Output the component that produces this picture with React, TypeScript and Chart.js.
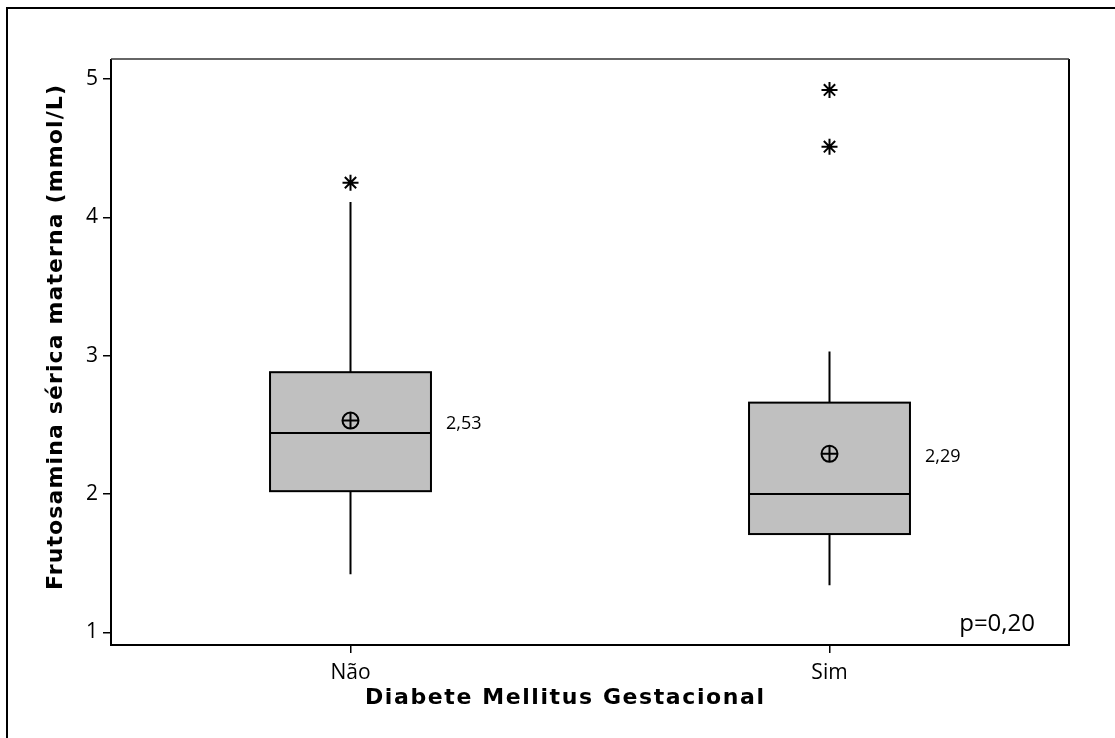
import React, { useEffect, useRef } from "react";
import { Chart, registerables } from "chart.js";

Chart.register(...registerables);

// ---- data ----
const categories = ["Não", "Sim"];
const whiskerLow = [1.42, 1.34];
const q1 = [2.02, 1.71];
const median = [2.44, 2.0];
const q3 = [2.88, 2.66];
const whiskerHigh = [4.11, 3.03];
const means = [2.53, 2.29];
const meanLabels = ["2,53", "2,29"];
const outlierCategory = [1, 2, 2];
const outlierValues = [4.25, 4.92, 4.51];
const yTickValues = [1, 2, 3, 4, 5];
const pValueText = "p=0,20";
const xAxisTitle = "Diabete Mellitus Gestacional";
const yAxisTitle = "Frutosamina sérica materna (mmol/L)";

const BOX_HALF = 0.168; // in category units
const TEXT_FONT = "'Open Sans', 'Noto Sans', sans-serif";
const TITLE_FONT = "'DejaVu Sans', Verdana, sans-serif";

function spacedText(
  ctx: CanvasRenderingContext2D,
  text: string,
  target: number
) {
  (ctx as any).letterSpacing = "0px";
  const w = ctx.measureText(text).width;
  const s = (target - w) / (text.length - 1);
  (ctx as any).letterSpacing = `${s}px`;
}

const boxPlugin = {
  id: "boxes",
  beforeDatasetsDraw(chart: any) {
    const { ctx } = chart;
    const xs = chart.scales.x;
    const ys = chart.scales.y;
    ctx.save();
    categories.forEach((_, i) => {
      const cx = xs.getPixelForValue(i + 1);
      const left = xs.getPixelForValue(i + 1 - BOX_HALF);
      const right = xs.getPixelForValue(i + 1 + BOX_HALF);
      const yQ1 = ys.getPixelForValue(q1[i]);
      const yQ3 = ys.getPixelForValue(q3[i]);
      const yMed = ys.getPixelForValue(median[i]);
      const yLo = ys.getPixelForValue(whiskerLow[i]);
      const yHi = ys.getPixelForValue(whiskerHigh[i]);
      ctx.strokeStyle = "#000";
      ctx.lineWidth = 2;
      ctx.beginPath();
      ctx.moveTo(cx, yQ3);
      ctx.lineTo(cx, yHi);
      ctx.moveTo(cx, yQ1);
      ctx.lineTo(cx, yLo);
      ctx.stroke();
      ctx.fillStyle = "#c0c0c0";
      ctx.fillRect(left, yQ3, right - left, yQ1 - yQ3);
      ctx.strokeRect(left, yQ3, right - left, yQ1 - yQ3);
      ctx.beginPath();
      ctx.moveTo(left, yMed);
      ctx.lineTo(right, yMed);
      ctx.stroke();
    });
    ctx.restore();
  },
  afterDraw(chart: any) {
    const { ctx, chartArea } = chart;
    const xs = chart.scales.x;
    const ys = chart.scales.y;
    ctx.save();
    // plot frame
    ctx.strokeStyle = "#000";
    ctx.lineWidth = 2;
    ctx.beginPath();
    ctx.moveTo(chartArea.left, chartArea.top);
    ctx.lineTo(chartArea.left, chartArea.bottom);
    ctx.lineTo(chartArea.right, chartArea.bottom);
    ctx.lineTo(chartArea.right, chartArea.top);
    ctx.stroke();
    ctx.strokeStyle = "#333";
    ctx.lineWidth = 1.5;
    ctx.beginPath();
    ctx.moveTo(chartArea.left, chartArea.top);
    ctx.lineTo(chartArea.right, chartArea.top);
    ctx.stroke();
    // outer frame
    ctx.strokeStyle = "#000";
    ctx.lineWidth = 2;
    ctx.beginPath();
    ctx.moveTo(7, chart.height);
    ctx.lineTo(7, 8);
    ctx.lineTo(chart.width, 8);
    ctx.stroke();
    // mean labels
    ctx.fillStyle = "#000";
    ctx.font = `18px ${TEXT_FONT}`;
    ctx.textAlign = "left";
    ctx.textBaseline = "alphabetic";
    categories.forEach((_, i) => {
      const right = xs.getPixelForValue(i + 1 + BOX_HALF);
      ctx.fillText(meanLabels[i], right + 15, ys.getPixelForValue(means[i]) + 8);
    });
    // p value
    ctx.font = `24px ${TEXT_FONT}`;
    ctx.textAlign = "right";
    ctx.fillText(pValueText, chartArea.right - 34, chartArea.bottom - 14);
    // x title
    ctx.font = `bold 22px ${TITLE_FONT}`;
    ctx.textAlign = "left";
    spacedText(ctx, xAxisTitle, 399);
    ctx.fillText(xAxisTitle, 365, 704);
    // y title
    ctx.save();
    ctx.translate(62, 590);
    ctx.rotate(-Math.PI / 2);
    spacedText(ctx, yAxisTitle, 505);
    ctx.fillText(yAxisTitle, 0, 0);
    ctx.restore();
    ctx.restore();
  },
};

export default function App() {
  const ref = useRef<HTMLCanvasElement | null>(null);
  useEffect(() => {
    document.body.style.margin = "0";
    const canvas = ref.current!;
    const chart = new Chart(canvas, {
      type: "scatter",
      data: {
        datasets: [
          {
            label: "outliers",
            data: outlierValues.map((v, i) => ({ x: outlierCategory[i], y: v })),
            pointStyle: "star",
            radius: 8,
            borderWidth: 2,
            borderColor: "#000",
            backgroundColor: "#000",
          },
          {
            label: "mean circle",
            data: means.map((v, i) => ({ x: i + 1, y: v })),
            pointStyle: "circle",
            radius: 8,
            borderWidth: 2,
            borderColor: "#000",
            backgroundColor: "rgba(0,0,0,0)",
          },
          {
            label: "mean cross",
            data: means.map((v, i) => ({ x: i + 1, y: v })),
            pointStyle: "cross",
            radius: 8,
            borderWidth: 2,
            borderColor: "#000",
            backgroundColor: "#000",
          },
        ],
      },
      options: {
        responsive: false,
        animation: false,
        events: [],
        layout: { padding: { left: 0, top: 59, right: 46, bottom: 0 } },
        plugins: { legend: { display: false }, tooltip: { enabled: false } },
        scales: {
          x: {
            type: "linear",
            min: 0.5,
            max: 2.5,
            afterBuildTicks: (s: any) => {
              s.ticks = categories.map((_, i) => ({ value: i + 1 }));
            },
            afterFit: (s: any) => {
              s.height = 93;
            },
            ticks: {
              autoSkip: false,
              maxRotation: 0,
              color: "#000",
              padding: 7,
              font: { family: TEXT_FONT, size: 21 },
              callback: (v: any) => categories[Number(v) - 1] ?? "",
            },
            grid: {
              drawOnChartArea: false,
              drawTicks: true,
              tickLength: 8,
              color: "#000",
              lineWidth: 1.5,
            },
            border: { display: false },
          },
          y: {
            type: "linear",
            min: 0.908,
            max: 5.144,
            afterBuildTicks: (s: any) => {
              s.ticks = yTickValues.map((v) => ({ value: v }));
            },
            afterFit: (s: any) => {
              s.width = 111;
            },
            ticks: {
              color: "#000",
              padding: 5,
              font: { family: TEXT_FONT, size: 21 },
              callback: (v: any) => String(v),
            },
            grid: {
              drawOnChartArea: false,
              drawTicks: true,
              tickLength: 8,
              color: "#000",
              lineWidth: 1.5,
            },
            border: { display: false },
          },
        },
      },
      plugins: [boxPlugin],
    } as any);
    return () => chart.destroy();
  }, []);
  return (
    <div style={{ position: "fixed", left: 0, top: 0, width: 1115, height: 738, background: "#fff" }}>
      <canvas ref={ref} width={1115} height={738} style={{ display: "block" }} />
    </div>
  );
}
